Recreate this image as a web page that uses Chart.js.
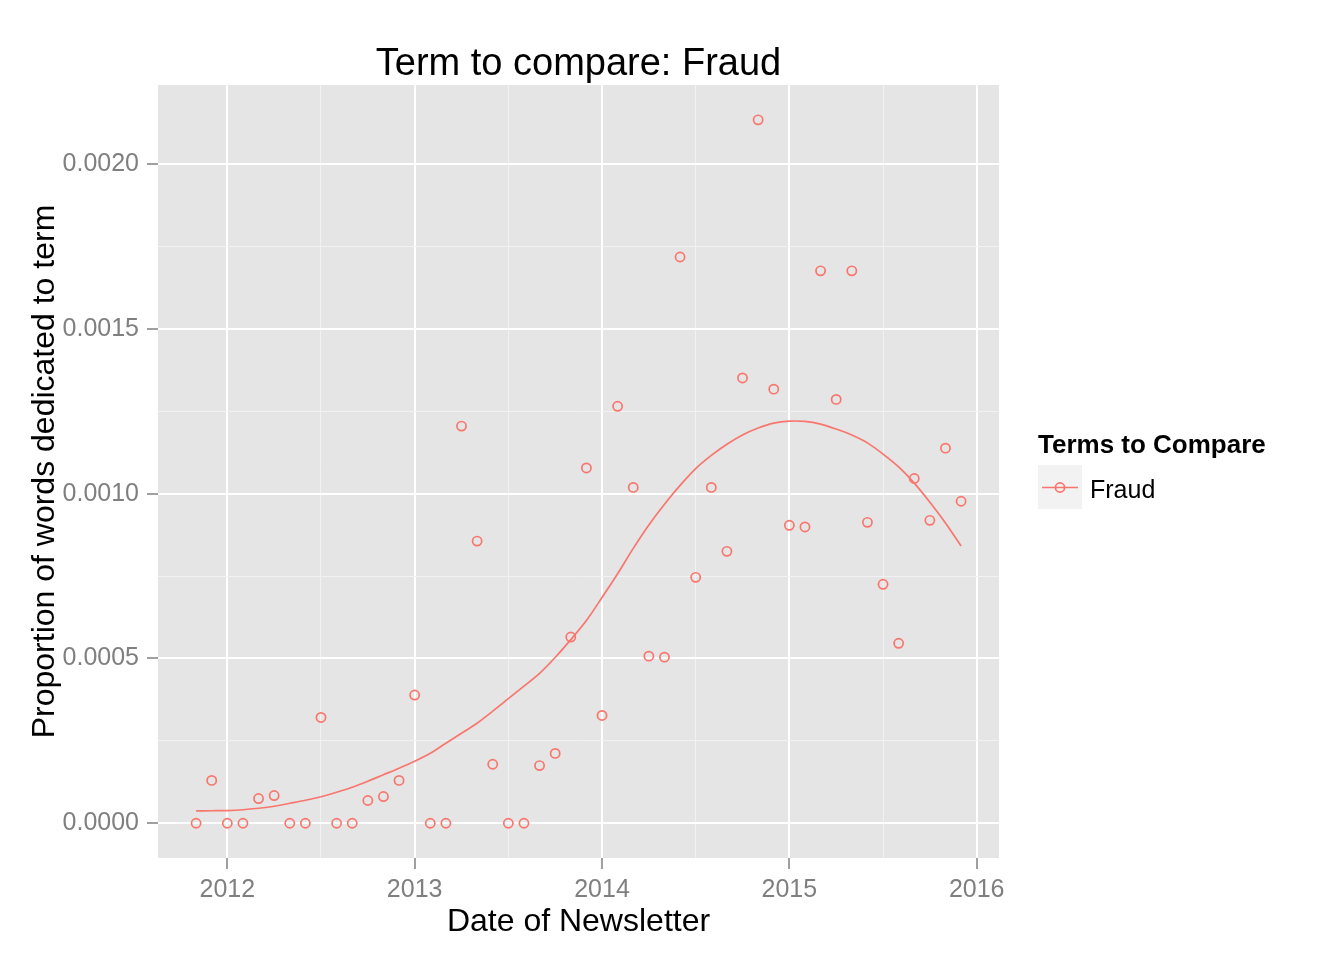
<!DOCTYPE html>
<html>
<head>
<meta charset="utf-8">
<style>
  html, body { margin: 0; padding: 0; background: #fff; }
  #wrap { width: 1344px; height: 960px; }
</style>
<script src="https://cdn.jsdelivr.net/npm/chart.js@4.4.1/dist/chart.umd.min.js"></script>
</head>
<body>
<div id="wrap"><canvas id="chart" width="1344" height="960"></canvas></div>
<script>
const chartTitle = "Term to compare: Fraud";
const xTitle = "Date of Newsletter";
const yTitle = "Proportion of words dedicated to term";
const legendTitle = "Terms to Compare";
const termName = "Fraud";

// one newsletter per month
const newsletterDates = [
  "2011-11", "2011-12",
  "2012-01", "2012-02", "2012-03", "2012-04", "2012-05", "2012-06",
  "2012-07", "2012-08", "2012-09", "2012-10", "2012-11", "2012-12",
  "2013-01", "2013-02", "2013-03", "2013-04", "2013-05", "2013-06",
  "2013-07", "2013-08", "2013-09", "2013-10", "2013-11", "2013-12",
  "2014-01", "2014-02", "2014-03", "2014-04", "2014-05", "2014-06",
  "2014-07", "2014-08", "2014-09", "2014-10", "2014-11", "2014-12",
  "2015-01", "2015-02", "2015-03", "2015-04", "2015-05", "2015-06",
  "2015-07", "2015-08", "2015-09", "2015-10", "2015-11", "2015-12"
];

const fraudShare = [
  0, 0.000130,
  0, 0, 0.000075, 0.000084, 0, 0,
  0.000321, 0, 0, 0.000069, 0.000081, 0.000130,
  0.000389, 0, 0, 0.001205, 0.000856, 0.000179,
  0, 0, 0.000175, 0.000212, 0.000565, 0.001078,
  0.000327, 0.001265, 0.001019, 0.000507, 0.000504, 0.001718,
  0.000746, 0.001019, 0.000825, 0.001351, 0.002134, 0.001317,
  0.000904, 0.000899, 0.001676, 0.001286, 0.001676, 0.000913,
  0.000725, 0.000546, 0.001046, 0.000919, 0.001138, 0.000977
];

// loess smoother at each newsletter date
const smoothFit = [
  0.0000373, 0.0000379,
  0.0000386, 0.0000410, 0.0000455, 0.0000516, 0.0000607, 0.0000698,
  0.0000804, 0.0000941, 0.0001093, 0.0001275, 0.0001472, 0.0001670,
  0.0001882, 0.0002125, 0.0002429, 0.0002732, 0.0003036, 0.0003400,
  0.0003780, 0.0004160, 0.0004550, 0.0005030, 0.0005570, 0.0006150,
  0.0006850, 0.0007570, 0.0008340, 0.0009050, 0.0009680, 0.0010250,
  0.0010760, 0.0011160, 0.0011500, 0.0011780, 0.0011990, 0.0012140,
  0.0012200, 0.0012190, 0.0012110, 0.0011960, 0.0011780, 0.0011540,
  0.0011200, 0.0010810, 0.0010320, 0.0009740, 0.0009110, 0.0008410
];

// major ticks alternate with minor grid positions
const xTicks = [2012, 2012.5, 2013, 2013.5, 2014, 2014.5, 2015, 2015.5, 2016];
const yTicks = [0, 0.00025, 0.0005, 0.00075, 0.001, 0.00125, 0.0015, 0.00175, 0.002];

const xRange = [2011.630, 2016.119];
const yRange = [-0.0001054, 0.0022398];

const red = "#F8766D";
const font = '"Liberation Sans", Arial, sans-serif';

const toYear = (s) => {
  const [y, m] = s.split("-").map(Number);
  return y + (m - 1) / 12;
};
const xs = newsletterDates.map(toYear);

const ggDecor = {
  id: "ggDecor",
  beforeDraw(chart) {
    const { ctx, chartArea: a } = chart;
    ctx.save();
    ctx.fillStyle = "#E5E5E5";
    ctx.fillRect(a.left, a.top, a.right - a.left, a.bottom - a.top);
    ctx.restore();
  },
  afterDraw(chart) {
    const { ctx, chartArea: a } = chart;
    const cx = (a.left + a.right) / 2;
    ctx.save();
    ctx.fillStyle = "#000";
    ctx.textAlign = "center";
    ctx.textBaseline = "alphabetic";
    ctx.font = "38px " + font;
    ctx.fillText(chartTitle, cx, 75);
    ctx.font = "32px " + font;
    ctx.fillText(xTitle, cx, 931);
    ctx.save();
    ctx.translate(54, (a.top + a.bottom) / 2);
    ctx.rotate(-Math.PI / 2);
    ctx.fillText(yTitle, 0, 0);
    ctx.restore();

    // legend
    ctx.textAlign = "left";
    ctx.font = "bold 26px " + font;
    ctx.fillText(legendTitle, 1038, 453);
    ctx.fillStyle = "#F2F2F2";
    ctx.fillRect(1038, 465, 44, 44);
    ctx.strokeStyle = red;
    ctx.lineWidth = 1.7;
    ctx.beginPath();
    ctx.moveTo(1042, 487.5);
    ctx.lineTo(1078, 487.5);
    ctx.stroke();
    ctx.beginPath();
    ctx.arc(1060, 487.5, 4.6, 0, Math.PI * 2);
    ctx.stroke();
    ctx.fillStyle = "#000";
    ctx.font = "25px " + font;
    ctx.fillText(termName, 1090, 498);
    ctx.restore();
  }
};

const isMajor = (c) => c.index % 2 === 0;

new Chart(document.getElementById("chart"), {
  type: "scatter",
  data: {
    datasets: [
      {
        label: termName,
        data: xs.map((x, i) => ({ x: x, y: fraudShare[i] })),
        showLine: false,
        pointStyle: "circle",
        pointRadius: 4.6,
        pointBorderWidth: 1.7,
        pointBorderColor: red,
        pointBackgroundColor: "rgba(0,0,0,0)",
        order: 1
      },
      {
        label: termName + " smooth",
        data: xs.map((x, i) => ({ x: x, y: smoothFit[i] })),
        showLine: true,
        borderColor: red,
        borderWidth: 1.7,
        pointRadius: 0,
        tension: 0.3,
        fill: false,
        order: 2
      }
    ]
  },
  options: {
    responsive: false,
    animation: false,
    events: [],
    layout: { padding: { top: 85, right: 345, bottom: 0, left: 0 } },
    plugins: {
      legend: { display: false },
      title: { display: false },
      tooltip: { enabled: false }
    },
    scales: {
      x: {
        type: "linear",
        min: xRange[0],
        max: xRange[1],
        afterBuildTicks: (axis) => { axis.ticks = xTicks.map((v) => ({ value: v })); },
        afterFit: (axis) => { axis.height = 102; },
        border: { display: false },
        grid: {
          color: (c) => (isMajor(c) ? "#FFFFFF" : "#F2F2F2"),
          lineWidth: (c) => (isMajor(c) ? 2 : 1),
          tickColor: (c) => (isMajor(c) ? "#7F7F7F" : "rgba(0,0,0,0)"),
          tickWidth: 1.5,
          tickLength: 11
        },
        ticks: {
          autoSkip: false,
          maxRotation: 0,
          padding: 6,
          color: "#7F7F7F",
          font: { family: font, size: 25 },
          callback: (v, i) => (i % 2 === 0 ? String(v) : "")
        }
      },
      y: {
        type: "linear",
        min: yRange[0],
        max: yRange[1],
        afterBuildTicks: (axis) => { axis.ticks = yTicks.map((v) => ({ value: v })); },
        afterFit: (axis) => { axis.width = 158; },
        border: { display: false },
        grid: {
          color: (c) => (isMajor(c) ? "#FFFFFF" : "#F2F2F2"),
          lineWidth: (c) => (isMajor(c) ? 2 : 1),
          tickColor: (c) => (isMajor(c) ? "#7F7F7F" : "rgba(0,0,0,0)"),
          tickWidth: 1.5,
          tickLength: 11
        },
        ticks: {
          autoSkip: false,
          padding: 8,
          color: "#7F7F7F",
          font: { family: font, size: 25 },
          callback: (v, i) => (i % 2 === 0 ? v.toFixed(4) : "")
        }
      }
    }
  },
  plugins: [ggDecor]
});
</script>
</body>
</html>
